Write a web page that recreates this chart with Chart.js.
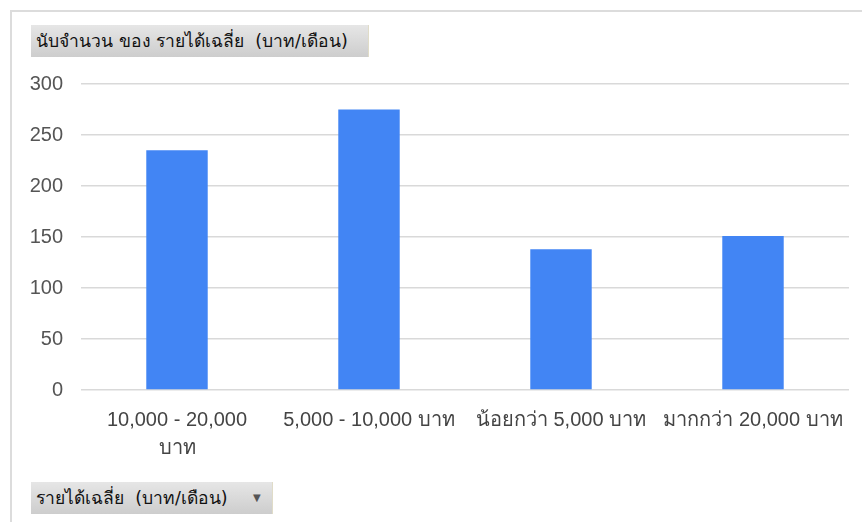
<!DOCTYPE html>
<html>
<head>
<meta charset="utf-8">
<script src="https://cdn.jsdelivr.net/npm/chart.js@4/dist/chart.umd.min.js"></script>
<style>
  body { margin: 0; background: #fff; }
  #wrap { position: relative; width: 862px; height: 522px; overflow: hidden; }
  #frame { position: absolute; left: 10px; top: 10px; right: -5px; bottom: -5px;
    border-top: 2px solid #dcdcdc; border-left: 2px solid #dcdcdc; }
  canvas { position: absolute; left: 0; top: 0; }
  .pill { position: absolute; height: 32px; line-height: 32px; padding-left: 5px;
    background: linear-gradient(#e6e6e6, #cdcdcd); color: #111;
    font-family: Tahoma, "DejaVu Sans", "Noto Sans", sans-serif; font-size: 17.5px;
    box-sizing: border-box; border-right: 1px solid #e0dcc8; white-space: nowrap; }
  #title { left: 31px; top: 25px; width: 338px; }
  #filter { left: 31px; top: 482px; width: 242px; }
  #filter span { position: absolute; left: 222px; top: 0; font-size: 10px; color: #555; }
</style>
</head>
<body>
<div id="wrap">
  <div id="frame"></div>
  <canvas id="chart" width="862" height="522"></canvas>
  <div class="pill" id="title">นับจำนวน ของ รายได้เฉลี่ย&nbsp; (บาท/เดือน)</div>
  <div class="pill" id="filter">รายได้เฉลี่ย&nbsp; (บาท/เดือน)<span>▼</span></div>
</div>
<script>
const categories = [['10,000 - 20,000', 'บาท'], '5,000 - 10,000 บาท', 'น้อยกว่า 5,000 บาท', 'มากกว่า 20,000 บาท']
const counts = [235, 275, 138, 151]
const yTicks = [0, 50, 100, 150, 200, 250, 300]

const font = '"Liberation Sans", Arial, "Noto Sans", sans-serif'

new Chart(document.getElementById('chart'), {
  type: 'bar',
  data: {
    labels: categories,
    datasets: [{
      label: 'นับจำนวน ของ รายได้เฉลี่ย (บาท/เดือน)',
      data: counts,
      backgroundColor: '#4285f4',
      barPercentage: 0.32,
      categoryPercentage: 1
    }]
  },
  options: {
    responsive: false,
    animation: false,
    layout: { padding: { top: 84, right: 13, left: 0, bottom: 0 } },
    plugins: { legend: { display: false }, tooltip: { enabled: false } },
    scales: {
      x: {
        afterFit: s => { s.height = 132 },
        grid: { display: false },
        border: { display: false },
        ticks: { color: '#444', font: { family: font, size: 20, lineHeight: 1.4 }, padding: 8, maxRotation: 0, autoSkip: false }
      },
      y: {
        min: 0,
        max: 300,
        afterFit: s => { s.width = 81 },
        afterBuildTicks: s => { s.ticks = yTicks.map(v => ({ value: v })) },
        grid: { color: '#d9d9d9', lineWidth: 1.5, drawTicks: false },
        border: { display: false },
        ticks: { color: '#555', font: { family: font, size: 20 }, padding: 18 }
      }
    }
  }
})
</script>
</body>
</html>
